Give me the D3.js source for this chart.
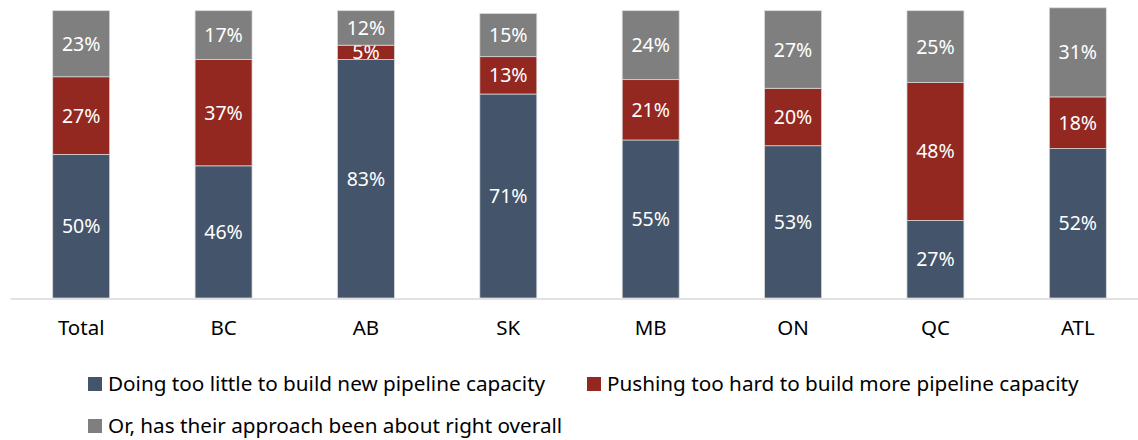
<!DOCTYPE html>
<html>
<head>
<meta charset="utf-8">
<script src="https://cdn.jsdelivr.net/npm/d3@7"></script>
<style>
    body { margin: 0; background: #fff; }
    svg { font-family: "Noto Sans", "Open Sans", sans-serif; }
</style>
</head>
<body>
<svg id="chart"></svg>
<script>
// regions along the x axis
var regions = ["Total", "BC", "AB", "SK", "MB", "ON", "QC", "ATL"];

// series values, percent
var tooLittle = [50, 46, 83, 71, 55, 53, 27, 52];
var tooHard = [27, 37, 5, 13, 21, 20, 48, 18];
var aboutRight = [23, 17, 12, 15, 24, 27, 25, 31];

var seriesNames = [
    "Doing too little to build new pipeline capacity",
    "Pushing too hard to build more pipeline capacity",
    "Or, has their approach been about right overall"
];
var seriesColors = ["#44546a", "#932821", "#7f7f7f"];

var screen = { width: 1138, height: 440 };

var svg = d3.select("#chart")
    .attr("width", screen.width)
    .attr("height", screen.height);

var xScale = d3.scaleBand()
    .domain(regions)
    .range([10, 1149])
    .paddingInner(0.6)
    .paddingOuter(0.3);

var yScale = d3.scaleLinear()
    .domain([0, 100])
    .range([298, 10.7]);

// one row per region, keyed by series index
var rows = regions.map(function (r, i) {
    return { region: r, s0: tooLittle[i], s1: tooHard[i], s2: aboutRight[i] };
});

var stack = d3.stack().keys(["s0", "s1", "s2"]);
var layers = stack(rows);

var groups = svg.append("g")
    .selectAll("g")
    .data(layers)
    .enter()
    .append("g")
    .attr("fill", function (d, i) { return seriesColors[i]; });

groups.selectAll("rect")
    .data(function (d) { return d; })
    .enter()
    .append("rect")
    .attr("x", function (d) { return xScale(d.data.region); })
    .attr("width", xScale.bandwidth())
    .attr("y", function (d) { return yScale(d[1]); })
    .attr("height", function (d) { return yScale(d[0]) - yScale(d[1]); })
    .attr("stroke", "#d9d9d9")
    .attr("stroke-width", 0.75);

// value labels
groups.selectAll("text")
    .data(function (d) { return d; })
    .enter()
    .append("text")
    .attr("x", function (d) { return xScale(d.data.region) + xScale.bandwidth() / 2; })
    .attr("y", function (d) { return (yScale(d[0]) + yScale(d[1])) / 2; })
    .attr("dy", "0.36em")
    .attr("text-anchor", "middle")
    .attr("fill", "#fff")
    .style("font-size", "19.5px")
    .text(function (d) { return (d[1] - d[0]) + "%"; });

// x axis
var xAxis = d3.axisBottom(xScale).tickSize(0).tickPadding(22);
var axisG = svg.append("g")
    .attr("transform", "translate(0,298.5)")
    .call(xAxis);
axisG.select(".domain").attr("stroke", "#d9d9d9").attr("stroke-width", 1.5);
axisG.selectAll("text")
    .attr("fill", "#000")
    .style("font-size", "20.5px")
    .style("font-family", "'Noto Sans', 'Open Sans', sans-serif");

// legend
var legendPos = [
    { x: 88, y: 384 },
    { x: 587, y: 384 },
    { x: 88, y: 426 }
];
var legend = svg.append("g")
    .selectAll("g")
    .data(seriesNames)
    .enter()
    .append("g")
    .attr("transform", function (d, i) {
        return "translate(" + legendPos[i].x + "," + legendPos[i].y + ")";
    });
legend.append("rect")
    .attr("x", 0)
    .attr("y", -7)
    .attr("width", 14)
    .attr("height", 14)
    .attr("fill", function (d, i) { return seriesColors[i]; });
legend.append("text")
    .attr("x", 20)
    .attr("dy", "0.36em")
    .attr("fill", "#000")
    .style("font-size", "20.7px")
    .text(function (d) { return d; });
</script>
</body>
</html>
